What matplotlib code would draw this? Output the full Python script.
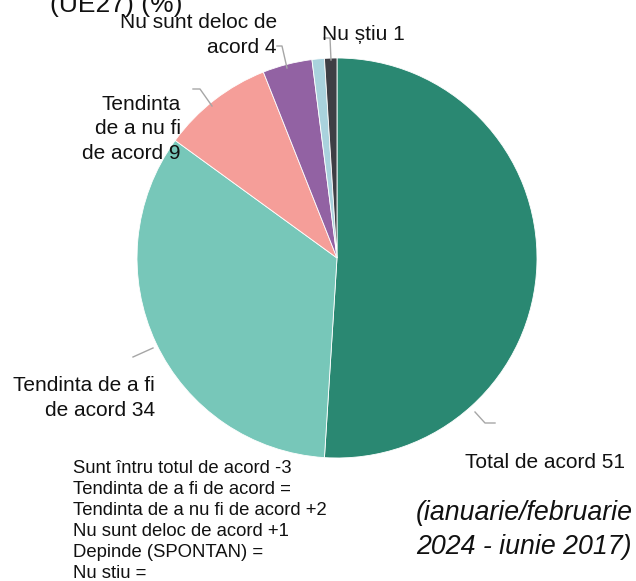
import numpy as np
import matplotlib
matplotlib.use("Agg")
import matplotlib.pyplot as plt

plt.rcParams['font.family'] = ['Liberation Sans', 'DejaVu Sans']

# data
categories = ["Total de acord", "Tendinta de a fi de acord", "Tendinta de a nu fi de acord",
              "Nu sunt deloc de acord", "Depinde (SPONTAN)", "Nu știu"]
values = [51, 34, 9, 4, 1, 1]
colors = ["#2a8872", "#77c7b9", "#f59e99", "#9262a3", "#a9d2dd", "#3e3e44"]
label_names = ["Total de acord", "Tendinta de a fi\nde acord", "Tendinta\nde a nu fi\nde acord",
               "Nu sunt deloc de\nacord", None, "Nu știu"]
changes = ["-3", "=", "+2", "+1", "=", "="]
change_names = ["Sunt întru totul de acord", "Tendinta de a fi de acord", "Tendinta de a nu fi de acord",
                "Nu sunt deloc de acord", "Depinde (SPONTAN)", "Nu stiu"]

W, H = 636, 581
CX, CY, R = 337, 258, 200


def px(x, y):
    # pixel (from top-left) -> data coords (pie radius = 1)
    return (x - CX) / R, (CY - y) / R


fig = plt.figure(figsize=(W / 100, H / 100), dpi=100)
ax = fig.add_axes([0, 0, 1, 1])

ax.pie(values, colors=colors, startangle=90, counterclock=False, radius=1,
       wedgeprops=dict(edgecolor='white', linewidth=0.6))

ax.set_aspect('auto')
ax.set_xlim(-CX / R, (W - CX) / R)
ax.set_ylim(-(H - CY) / R, CY / R)
ax.axis('off')

# slice labels: (text anchor px, ha) and leader polylines px
label_pos = [((465, 462), 'left'), ((155, 398), 'right'), ((181, 129), 'right'),
             ((277, 35), 'right'), None, ((322, 35), 'left')]
leaders = [[(475, 412), (485, 423), (495, 423)],
           [(133, 357), (153, 348)],
           [(193, 89), (200, 89), (212, 106)],
           [(277, 46), (282, 46), (287, 68)],
           None,
           [(324, 38), (330, 38), (331, 60)]]

for name, v, lp, ld in zip(label_names, values, label_pos, leaders):
    if name is None:
        continue
    (x, y), ha = lp
    tx, ty = px(x, y)
    ax.text(tx, ty, f"{name} {v}", ha=ha, va='center', multialignment=ha,
            fontsize=15, color='#111111', linespacing=1.35)
    pts = np.array([px(a, b) for a, b in ld])
    ax.plot(pts[:, 0], pts[:, 1], color='#a6a6a6', lw=1)

# partially cut title
tx, ty = px(50, 12)
ax.text(tx, ty, "(UE27) (%)", ha='left', va='baseline', fontsize=19, color='#111111')

# changes note
note = "\n".join(f"{n} {c}" for n, c in zip(change_names, changes))
tx, ty = px(73, 460)
ax.text(tx, ty, note, ha='left', va='top', fontsize=13.3, color='#111111', linespacing=1.31)

tx, ty = px(416, 530)
ax.text(tx, ty, "(ianuarie/februarie\n2024 - iunie 2017)", ha='left', va='center',
        fontsize=19.3, style='italic', color='#111111', linespacing=1.42)

fig.savefig("out.png", dpi=100)
